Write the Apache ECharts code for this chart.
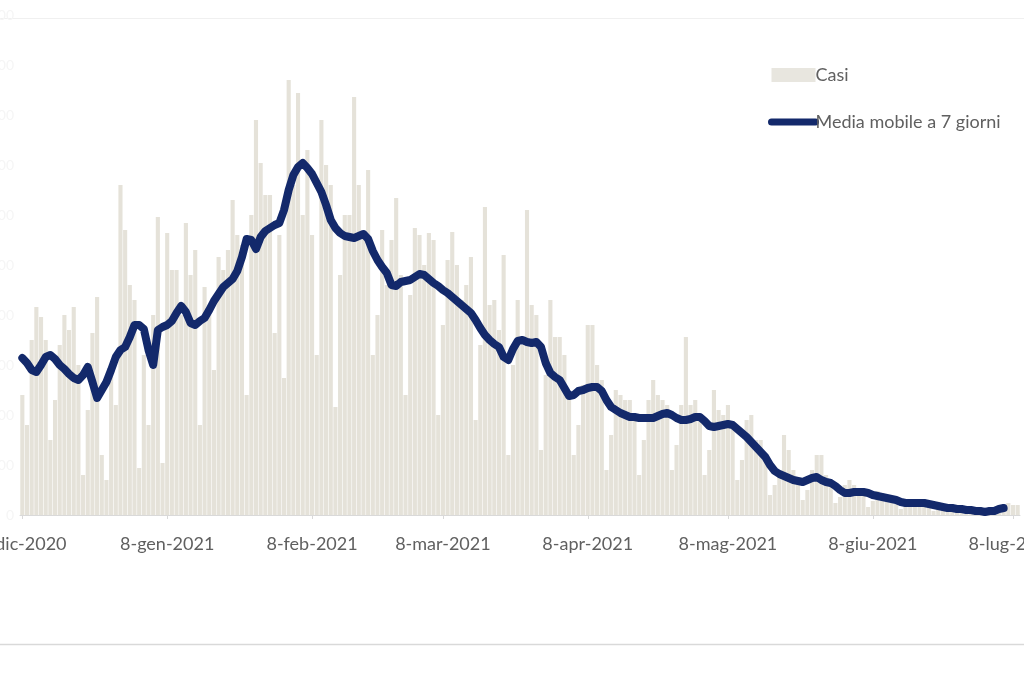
<!DOCTYPE html>
<html>
<head>
<meta charset="utf-8">
<script src="https://cdn.jsdelivr.net/npm/echarts@6/dist/echarts.min.js"></script>
<style>
html,body{margin:0;padding:0;background:#ffffff;}
#chart{width:1024px;height:680px;}
</style>
</head>
<body>
<div id="chart"></div>
<script>
// ---- data ----
const startDate = [2020, 11, 8]; // 8-dic-2020
const dayCount = 214;
const monthNames = ['gen','feb','mar','apr','mag','giu','lug','ago','set','ott','nov','dic'];
const legendNames = ['Casi', 'Media mobile a 7 giorni'];

const casi = [
 1200, 900,1750,2080,1980,1750, 750,
 1150,1700,2000,1850,2080,1500, 400,
 1050,1820,2180, 600, 350,1500,1100,
 3300,2850,2300,2150, 470,1600, 900,
 2000,2980, 520,2820,2450,2450,2000,
 2920,2400,2650, 900,2280,2000,1450,
 2580,2450,2650,3150,2800,2700,1200,
 3000,3950,3520,3200,3200,1820,2800,
 1370,4350,3300,4220,3000,3650,2800,
 1600,3950,3500,3300,1080,2400,3000,
 3000,4180,3300,2800,3450,1600,2000,
 2850,2300,2750,3170,2400,1200,2200,
 2870,2800,2500,2820,2750,1000,1900,
 2550,2830,2500,2150,2300,2580, 950,
 1700,3080,2100,2150,1850,2600, 600,
 1500,2150,1700,3050,2100,2000, 650,
 1400,2150,1780,1780,1600,1200, 600,
  900,1300,1900,1900,1500,1350, 450,
  800,1250,1200,1150,1150,1000, 400,
  750,1150,1350,1200,1150,1100, 450,
  700,1100,1780,1100,1150, 950, 400,
  650,1250,1050,1000,1100, 900, 350,
  550, 950,1000, 750, 750, 600, 200,
  300, 450, 800, 650, 450, 350, 150,
  250, 450, 600, 600, 400, 350, 120,
  180, 300, 350, 300, 250, 200,  80,
  140, 240, 220, 200, 180, 150,  60,
  100, 150, 140, 140, 130, 110,  40,
   60, 100,  90,  80,  80,  60,  30,
   40,  60,  50,  50,  50,  60,  40,
   60, 120, 100, 100
];

const mediaMobile = [
 1570,1520,1450,1430,1500,1580,1600,
 1560,1500,1460,1410,1370,1350,1400,
 1480,1330,1170,1250,1330,1450,1580,
 1650,1680,1780,1900,1900,1860,1650,
 1500,1850,1880,1900,1940,2020,2090,
 2030,1920,1900,1940,1970,2050,2140,
 2210,2280,2320,2360,2440,2580,2760,
 2750,2660,2780,2840,2870,2900,2920,
 3050,3250,3400,3480,3520,3470,3410,
 3320,3230,3100,2950,2870,2820,2790,
 2780,2770,2790,2810,2760,2640,2550,
 2480,2420,2300,2290,2330,2340,2350,
 2380,2410,2400,2360,2320,2290,2250,
 2220,2180,2140,2100,2060,2020,1950,
 1870,1800,1750,1710,1680,1580,1550,
 1660,1740,1750,1730,1720,1730,1680,
 1520,1420,1380,1350,1270,1190,1200,
 1240,1250,1270,1280,1280,1240,1150,
 1080,1050,1020,1000, 980, 980, 970,
  970, 970, 970, 990,1010,1020,1000,
  970, 950, 950, 960, 980, 980, 940,
  890, 880, 890, 900, 910, 900, 860,
  820, 780, 730, 680, 630, 580, 500,
  440, 410, 390, 370, 350, 340, 330,
  350, 370, 380, 350, 330, 320, 290,
  250, 220, 220, 230, 230, 230, 220,
  200, 190, 180, 170, 160, 150, 130,
  120, 120, 120, 120, 120, 110, 100,
   90,  80,  70,  70,  60,  60,  50,
   50,  40,  40,  30,  40,  40,  60,
   70
];

const yMax = 5000;
const yStep = 500;

// ---- categories (dates) ----
const categorie = [];
for (let i = 0; i < dayCount; i++) {
  const d = new Date(startDate[0], startDate[1], startDate[2] + i);
  categorie.push(d.getDate() + '-' + monthNames[d.getMonth()] + '-' + d.getFullYear());
}
const isEighth = (idx, val) => /^8-/.test(String(val));

const chart = echarts.init(document.getElementById('chart'), null, {renderer: 'canvas'});
const fontFam = 'Lato, "Open Sans", sans-serif';
const navy = '#13296b';

chart.setOption({
  animation: false,
  backgroundColor: '#ffffff',
  grid: {left: 20, right: 4, top: 15, bottom: 165, containLabel: false, outerBoundsMode: 'none'},
  legend: {
    orient: 'vertical',
    left: 763,
    top: 61,
    itemWidth: 44,
    itemHeight: 14,
    itemGap: 29,
    textStyle: {color: '#606060', fontSize: 18, fontFamily: fontFam, padding: [0,0,0,-5]},
    data: [
      {name: legendNames[0], icon: 'rect', itemStyle: {color: '#e8e6df'}},
      {name: legendNames[1], itemStyle: {color: 'rgba(0,0,0,0)', borderWidth: 0, opacity: 0}, lineStyle: {color: navy, width: 7, cap: 'round'}}
    ]
  },
  xAxis: {
    type: 'category',
    data: categorie,
    boundaryGap: true,
    axisLine: {show: true, lineStyle: {color: '#d9d9d9', width: 1}},
    axisTick: {show: true, interval: isEighth, alignWithLabel: true, length: 4, lineStyle: {color: '#d9d9d9'}},
    axisLabel: {
      interval: isEighth,
      color: '#606060',
      fontSize: 18,
      fontFamily: fontFam,
      margin: 20,
      hideOverlap: false
    },
    splitLine: {show: false}
  },
  yAxis: {
    type: 'value',
    min: 0,
    max: yMax,
    interval: yStep,
    axisLine: {show: false},
    axisTick: {show: false},
    splitLine: {show: false},
    axisLabel: {
      color: '#f5f5f5',
      fontSize: 14,
      fontFamily: fontFam,
      margin: 6,
      formatter: v => v.toLocaleString('it-IT')
    }
  },
  graphic: [
    {type: 'line', shape: {x1: 0, y1: 18.5, x2: 1024, y2: 18.5}, style: {stroke: '#f0f0f0', lineWidth: 1}, silent: true},
    {type: 'line', shape: {x1: 0, y1: 644.5, x2: 1024, y2: 644.5}, style: {stroke: '#d9d9d9', lineWidth: 1.5}, silent: true}
  ],
  series: [
    {
      name: legendNames[0],
      type: 'bar',
      data: casi,
      barCategoryGap: '12%',
      itemStyle: {color: '#e5e2d9'},
      emphasis: {disabled: true},
      z: 1
    },
    {
      name: legendNames[1],
      type: 'line',
      data: mediaMobile,
      symbol: 'none',
      smooth: false,
      lineStyle: {color: navy, width: 8, join: 'round', cap: 'round'},
      itemStyle: {color: navy},
      emphasis: {disabled: true},
      z: 3
    }
  ]
});
</script>
</body>
</html>
